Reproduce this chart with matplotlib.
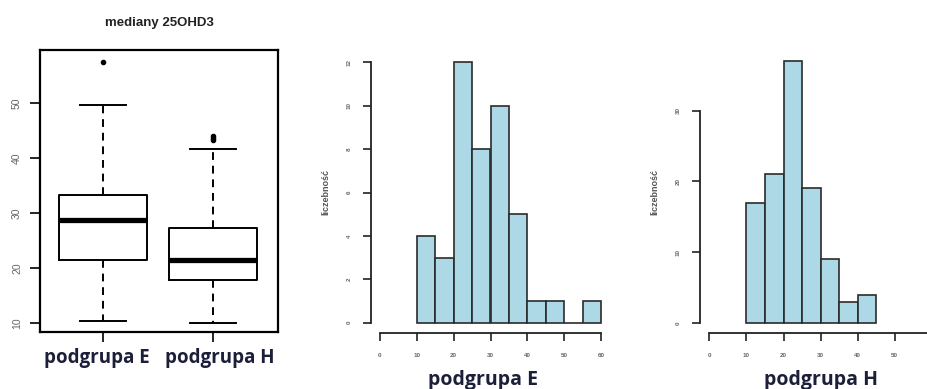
import matplotlib
matplotlib.use("Agg")
import matplotlib.pyplot as plt

# =============================================================================
# 25OHD3 medians: boxplot of both subgroups + histograms of each subgroup
# =============================================================================
groups = ["podgrupa E", "podgrupa H"]
box_title = "mediany 25OHD3"

# boxplot summaries
whislo = [10.4, 10.1]
q1 = [21.5, 17.9]
med = [28.8, 21.5]
q3 = [33.3, 27.3]
whishi = [49.6, 41.6]
fliers = [[57.5], [43.3, 43.7, 44.0]]

# histogram counts, 5-unit bins
edges_E = [10, 15, 20, 25, 30, 35, 40, 45, 50, 55, 60]
counts_E = [4, 3, 12, 8, 10, 5, 1, 1, 0, 1]
edges_H = [10, 15, 20, 25, 30, 35, 40, 45]
counts_H = [17, 21, 37, 19, 9, 3, 4]

y_label = "liczebność"
hist_xticks = [0, 10, 20, 30, 40, 50, 60]
yticks_E = [0, 2, 4, 6, 8, 10, 12]
yticks_H = [0, 10, 20, 30]

W, H = 928, 389
BAR = "#add8e6"
EDGE = "#2b2b2b"
TICKC = "#666666"
LABC = "#1c1f3a"

plt.rcParams["font.family"] = ["Liberation Sans", "DejaVu Sans"]

fig = plt.figure(figsize=(W / 100, H / 100), dpi=100)


def px_axes(x0, y0, x1, y1):
    return fig.add_axes([x0 / W, 1 - y1 / H, (x1 - x0) / W, (y1 - y0) / H])


# ---- boxplot ----
ax1 = px_axes(40, 50, 278, 332)
stats = []
for i in range(len(groups)):
    stats.append(dict(med=med[i], q1=q1[i], q3=q3[i], whislo=whislo[i],
                      whishi=whishi[i], fliers=fliers[i]))
ax1.bxp(stats, positions=[1, 2], widths=0.8, capwidths=0.42, showfliers=True,
        boxprops=dict(color="black", linewidth=1.4),
        medianprops=dict(color="black", linewidth=3.8, solid_capstyle="butt"),
        whiskerprops=dict(color="black", linewidth=1.4, linestyle=(0, (4, 3))),
        capprops=dict(color="black", linewidth=1.4),
        flierprops=dict(marker="o", markersize=3, markerfacecolor="black",
                        markeredgecolor="black"))
ax1.set_xlim(0.43, 2.59)
ax1.set_ylim(8.4, 59.6)
ax1.set_yticks([10, 20, 30, 40, 50])
ax1.set_yticklabels([10, 20, 30, 40, 50], rotation=90, va="center",
                    fontsize=7.5, color=TICKC)
ax1.set_xticks([1, 2])
ax1.set_xticklabels(["", ""])
ax1.tick_params(axis="y", length=7, width=1.2, pad=6)
ax1.tick_params(axis="x", length=7, width=1.2)
for s in ax1.spines.values():
    s.set_linewidth(1.6)
fig.text(159 / W, 1 - 23 / H, box_title, ha="center", va="center",
         fontsize=9.5, fontweight="bold", color="#222222")
for xc, lab in zip([96.5, 219.5], groups):
    fig.text(xc / W, 1 - 363 / H, lab, ha="center", va="baseline",
             fontsize=13.5, fontweight="bold", color=LABC,
             family=["Open Sans", "DejaVu Sans"])


# ---- histograms ----
def hist_panel(ax, edges, counts, yticks, ymax, title_x, name):
    widths = [b - a for a, b in zip(edges[:-1], edges[1:])]
    ax.bar(edges[:-1], counts, width=widths, align="edge", color=BAR,
           edgecolor=EDGE, linewidth=1.2)
    ax.set_xlim(-2.4, 62.4)
    ax.set_ylim(-0.04 * ymax, 1.04 * ymax)
    for s in ["top", "right"]:
        ax.spines[s].set_visible(False)
    ax.spines["left"].set_bounds(0, yticks[-1])
    ax.spines["bottom"].set_bounds(0, 60)
    for s in ["left", "bottom"]:
        ax.spines[s].set_linewidth(1.3)
        ax.spines[s].set_color("#222222")
    ax.set_xticks(hist_xticks)
    ax.set_xticklabels(hist_xticks, fontsize=4.5, color=TICKC, fontweight="bold")
    ax.set_yticks(yticks)
    ax.set_yticklabels(yticks, fontsize=4.5, color=TICKC, fontweight="bold",
                       rotation=90, va="center")
    ax.tick_params(length=6, width=1.2, color="#222222", pad=8)
    ax.set_ylabel(y_label, fontsize=6.5, color="#555555", fontweight="bold",
                  labelpad=12)
    fig.text(title_x / W, 1 - 385 / H, name, ha="center", va="baseline",
             fontsize=14, fontweight="bold", color=LABC,
             family=["Open Sans", "DejaVu Sans"])


ax2 = px_axes(371, 51.9, 610, 333.1)
hist_panel(ax2, edges_E, counts_E, yticks_E, 12, 483.5, groups[0])

ax3 = px_axes(700.4, 50.6, 940.8, 333.3)
hist_panel(ax3, edges_H, counts_H, yticks_H, 37, 821.5, groups[1])

fig.savefig("out.png", dpi=100)
